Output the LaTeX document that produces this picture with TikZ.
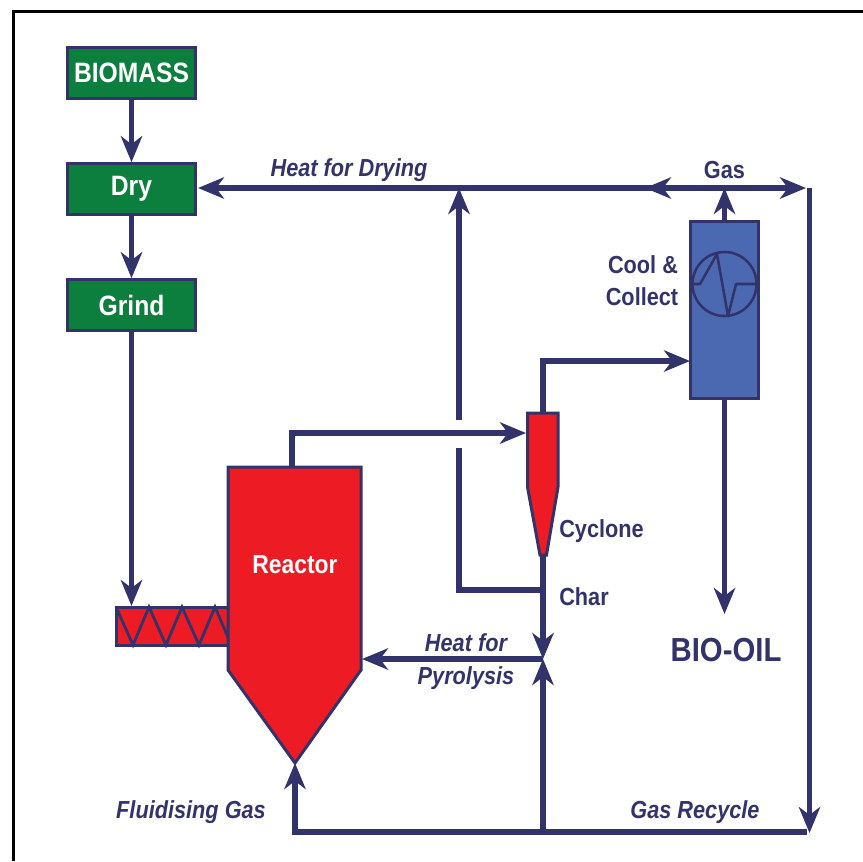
\documentclass[tikz,border=0pt]{standalone}
\usepackage{fontspec}
\usetikzlibrary{arrows.meta}
\setmainfont{Liberation Sans}
\newfontfamily\labfont[FakeStretch=0.88]{Liberation Sans}
\definecolor{navy}{HTML}{33336B}
\definecolor{boxgreen}{HTML}{0C7F3F}
\definecolor{boxred}{HTML}{ED1C24}
\definecolor{boxblue}{HTML}{4B69B1}
\tikzset{
  flow/.style={draw=navy,line width=4pt,-{Stealth[length=19.5pt,width=16pt,inset=6pt,fill=navy]}},
  plainflow/.style={draw=navy,line width=4pt,line join=miter},
  greenbox/.style={draw=navy,line width=2.25pt,fill=boxgreen,minimum width=95.5pt,minimum height=38pt,inner sep=0pt,text=white,font=\labfont\bfseries\fontsize{21}{25}\selectfont},
  outline/.style={draw=navy,line width=2.25pt,line join=miter},
  lab/.style={text=navy,inner sep=0pt,font=\labfont\bfseries\fontsize{18.5}{22}\selectfont},
  itlab/.style={lab,font=\labfont\bfseries\itshape\fontsize{18.5}{22}\selectfont}
}
\begin{document}
\begin{tikzpicture}[x=0.75pt,y=-0.75pt]
\useasboundingbox (0,0) rectangle (863,861);
% frame
\draw[black,line width=2.25pt] (13,861) -- (13,11) -- (863,11);

% named points
\coordinate (dryin) at (198,188);
\coordinate (heatj) at (459,188);
\coordinate (gasj) at (724.5,188);
\coordinate (gasmid) at (645,188);
\coordinate (gasend) at (806,188);
\coordinate (recycletop) at (809.5,188);
\coordinate (recyclebot) at (809.5,833);
\coordinate (recyclecorner) at (807,832);
\coordinate (charj) at (543,590);
\coordinate (charcorner) at (459,590);
\coordinate (gapbot) at (459,448);
\coordinate (gaptop) at (459,420);
\coordinate (pyro) at (543,659);
\coordinate (botj) at (543,832);
\coordinate (botleft) at (295,832);
\coordinate (reactortip) at (295,763);
\coordinate (reactorheat) at (362,659);
\coordinate (reactorout) at (292,467);
\coordinate (reactorcorner) at (292,433);
\coordinate (cycin) at (526,433);
\coordinate (cyctop) at (543,413);
\coordinate (cyccorner) at (543,361);
\coordinate (cycbot) at (543,555);
\coordinate (coolin) at (690,361);
\coordinate (coolout) at (724.5,221);
\coordinate (oilout) at (724.5,399);
\coordinate (oiltip) at (724.5,614);
\coordinate (screwin) at (131.5,606);

% connectors below the shapes
\draw[plainflow] (reactorout) -- (reactorcorner) -- ++(10,0);
\draw[flow] (reactorcorner) -- (cycin);
\draw[plainflow] (cyctop) -- (cyccorner) -- ++(10,0);
\draw[flow] (cyccorner) -- (coolin);
\draw[plainflow] (cycbot) -- (charj);
\draw[flow] (charj) -- (pyro);
\draw[plainflow] (charj) -- (charcorner) -- (gapbot);
\draw[flow] (gaptop) -- (heatj);
\draw[plainflow] (gasj) -- (heatj);
\draw[flow] (heatj) -- (dryin);
\draw[flow] (gasj) -- (gasmid);
\draw[flow] (gasj) -- (gasend);
\draw[flow] (coolout) -- (gasj);
\draw[flow] (recycletop) -- (recyclebot);
\draw[plainflow] (recyclecorner) -- (botleft);
\draw[flow] (botleft) -- (reactortip);
\draw[plainflow] (botleft) ++(0,2.5) -- (botleft);
\draw[flow] (botj) -- (pyro);
\draw[flow] (pyro) -- (reactorheat);
\draw[flow] (oilout) -- (oiltip);

% boxes
\node[greenbox] (biomass) at (131.5,73) {BIOMASS};
\node[greenbox] (dry) at (131.5,189) {Dry};
\node[greenbox] (grind) at (131.5,305) {Grind};
\draw[flow] (biomass) -- (dry);
\draw[flow] (dry) -- (grind);
\draw[flow] (grind) -- (screwin);

% screw feeder
\draw[outline,fill=boxred] (116,607) rectangle (230,645);
\draw[draw=navy,line width=2.1pt,line join=miter] (116,607) -- (133,645) -- (149,607) -- (166,645) -- (182,607) -- (199,645) -- (215,607) -- (230,642);

% reactor
\draw[outline,fill=boxred] (228,467) -- (361,467) -- (361,670) -- (295,763) -- (228,670) -- cycle;
\node[text=white,inner sep=0pt,font=\labfont\bfseries\fontsize{19.5}{23}\selectfont] (reactor) at (295,565) {Reactor};

% cyclone
\draw[outline,fill=boxred] (527.5,413) -- (558,413) -- (558,487) -- (546.5,555) -- (540,555) -- (527.5,487) -- cycle;

% cooler
\node[draw=navy,line width=2.25pt,fill=boxblue,minimum width=51pt,minimum height=133pt,inner sep=0pt] (cool) at (724.5,310) {};
\node[draw=navy,line width=1.9pt,circle,minimum size=48pt,inner sep=0pt] (dial) at (724.5,284) {};
\draw[draw=navy,line width=1.9pt,line join=round] (dial.west) -- (700,284) -- (717,254) -- (728,316) -- (736,284) -- (dial.east);

% labels
\node[itlab] (l1) at (349,170) {Heat for Drying};
\node[lab] (l2) at (724.5,170) {Gas};
\node[lab] (l3) at (643,265) {Cool \&};
\node[lab] (l4) at (642,297) {Collect};
\node[lab,anchor=west] (l5) at (559,531) {Cyclone};
\node[lab,anchor=west] (l6) at (559,597) {Char};
\node[itlab] (l7) at (466,643) {Heat for};
\node[itlab] (l8) at (466,678) {Pyrolysis};
\node[itlab] (l9) at (191,812) {Fluidising Gas};
\node[itlab] (l10) at (695,812) {Gas Recycle};
\node[text=navy,inner sep=0pt,font=\labfont\bfseries\fontsize{25}{30}\selectfont] (oil) at (726,650) {BIO-OIL};
\end{tikzpicture}
\end{document}
